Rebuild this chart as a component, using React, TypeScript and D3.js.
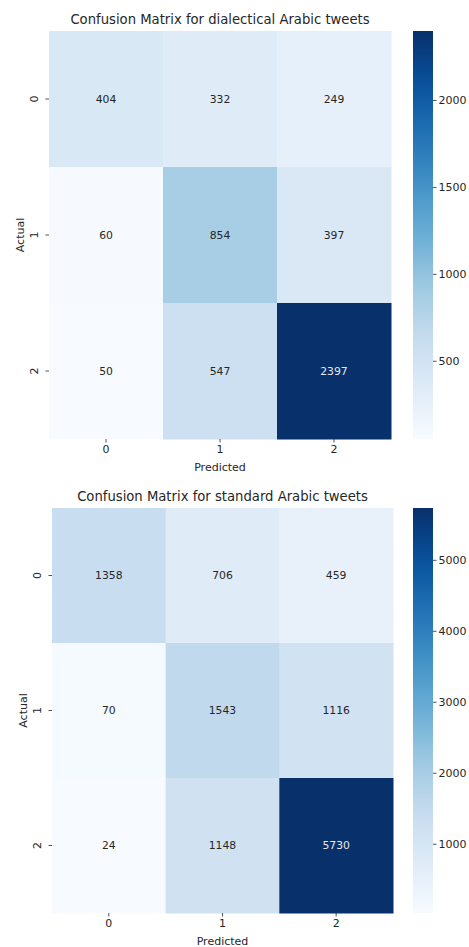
import React, { useEffect, useRef } from 'react';
import * as d3 from 'd3';

const labels = ['0', '1', '2'];

const dialectTitle = 'Confusion Matrix for dialectical Arabic tweets';
const dialectValues = [
  [404, 332, 249],
  [60, 854, 397],
  [50, 547, 2397],
];
const dialectTicks = [500, 1000, 1500, 2000];

const standardTitle = 'Confusion Matrix for standard Arabic tweets';
const standardValues = [
  [1358, 706, 459],
  [70, 1543, 1116],
  [24, 1148, 5730],
];
const standardTicks = [1000, 2000, 3000, 4000, 5000];

// matplotlib "Blues" anchor colours
const blues = ['#f7fbff', '#deebf7', '#c6dbef', '#9ecae1', '#6baed6', '#4292c6', '#2171b5', '#08519c', '#08306b'];

const font = '"DejaVu Sans", sans-serif';
const labelSize = 11;

interface Box { x0: number; x1: number; y0: number; y1: number }

interface PanelProps {
  id: string,
  title: string,
  values: number[][],
  ticks: number[],
  box: Box,
  top: number,
}

function draw(svgEl: SVGSVGElement, { id, title, values, ticks, box, top }: PanelProps) {
  const svg = d3.select(svgEl);
  const flat = values.flat();
  const vmin = d3.min(flat)!;
  const vmax = d3.max(flat)!;

  const cmap = d3.scaleLinear<string>()
    .domain(d3.range(blues.length).map((i) => i / (blues.length - 1)))
    .range(blues)
    .interpolate(d3.interpolateRgb);
  const color = (v: number) => cmap((v - vmin) / (vmax - vmin));

  const x = d3.scaleBand().domain(labels).range([box.x0, box.x1]);
  const y = d3.scaleBand().domain(labels).range([box.y0, box.y1]);

  const g = svg.append('g').attr('font-family', font);

  g.append('text')
    .attr('x', (box.x0 + box.x1) / 2)
    .attr('y', top)
    .attr('text-anchor', 'middle')
    .attr('font-size', 13.2)
    .attr('fill', '#262626')
    .text(title);

  const cells = values.flatMap((row, r) => row.map((v, c) => ({ r, c, v })));

  g.selectAll('.cell')
    .data(cells)
    .enter()
    .append('rect')
    .attr('x', (d) => x(labels[d.c])!)
    .attr('y', (d) => y(labels[d.r])!)
    .attr('width', x.bandwidth() + 0.5)
    .attr('height', y.bandwidth() + 0.5)
    .attr('fill', (d) => color(d.v));

  g.selectAll('.annot')
    .data(cells)
    .enter()
    .append('text')
    .attr('x', (d) => x(labels[d.c])! + x.bandwidth() / 2)
    .attr('y', (d) => y(labels[d.r])! + y.bandwidth() / 2)
    .attr('dy', '0.35em')
    .attr('text-anchor', 'middle')
    .attr('font-size', 10.8)
    .attr('fill', (d) => ((d.v - vmin) / (vmax - vmin) > 0.6 ? '#e8e8e8' : '#262626'))
    .text((d) => d.v);

  const xAxis = g.append('g')
    .attr('transform', `translate(0, ${box.y1})`)
    .call(d3.axisBottom(x).tickSize(3.5).tickPadding(3));
  xAxis.select('.domain').remove();

  const yAxis = g.append('g')
    .attr('transform', `translate(${box.x0}, 0)`)
    .call(d3.axisLeft(y).tickSize(3.5).tickPadding(3));
  yAxis.select('.domain').remove();
  yAxis.selectAll('.tick text')
    .attr('transform', 'rotate(-90)')
    .attr('x', 0)
    .attr('y', -11)
    .attr('dy', 0)
    .attr('text-anchor', 'middle');

  [xAxis, yAxis].forEach((a) => {
    a.selectAll('.tick line').attr('stroke', '#262626').attr('stroke-width', 0.8);
    a.selectAll('.tick text').attr('font-family', font).attr('font-size', labelSize).attr('fill', '#262626');
  });

  g.append('text')
    .attr('x', (box.x0 + box.x1) / 2)
    .attr('y', box.y1 + 32)
    .attr('text-anchor', 'middle')
    .attr('font-size', labelSize)
    .attr('fill', '#262626')
    .text('Predicted');

  g.append('text')
    .attr('transform', `translate(${box.x0 - 25}, ${(box.y0 + box.y1) / 2}) rotate(-90)`)
    .attr('text-anchor', 'middle')
    .attr('font-size', labelSize)
    .attr('fill', '#262626')
    .text('Actual');

  // colorbar
  const cbX = 413;
  const cbW = 20;
  const cy = d3.scaleLinear().domain([vmin, vmax]).range([box.y1, box.y0]);

  const grad = svg.append('defs')
    .append('linearGradient')
    .attr('id', `grad-${id}`)
    .attr('x1', 0).attr('y1', 1).attr('x2', 0).attr('y2', 0);
  grad.selectAll('stop')
    .data(d3.range(0, 1.0001, 0.05))
    .enter()
    .append('stop')
    .attr('offset', (d) => d)
    .attr('stop-color', (d) => cmap(d));

  g.append('rect')
    .attr('x', cbX)
    .attr('y', box.y0)
    .attr('width', cbW)
    .attr('height', box.y1 - box.y0)
    .attr('fill', `url(#grad-${id})`);

  const cAxis = g.append('g')
    .attr('transform', `translate(${cbX + cbW}, 0)`)
    .call(d3.axisRight(cy).tickValues(ticks).tickSize(3.5).tickPadding(2).tickFormat(d3.format('d')));
  cAxis.select('.domain').remove();
  cAxis.selectAll('.tick line').attr('stroke', '#262626').attr('stroke-width', 0.8);
  cAxis.selectAll('.tick text').attr('font-family', font).attr('font-size', labelSize).attr('fill', '#262626');
}

const panels: PanelProps[] = [
  { id: 'dialect', title: dialectTitle, values: dialectValues, ticks: dialectTicks, box: { x0: 49, x1: 391, y0: 31, y1: 439 }, top: 24 },
  { id: 'standard', title: standardTitle, values: standardValues, ticks: standardTicks, box: { x0: 52, x1: 393, y0: 508, y1: 913 }, top: 501 },
];

export default function App() {
  const ref = useRef<SVGSVGElement>(null);

  useEffect(() => {
    if (!ref.current) return;
    d3.select(ref.current).selectAll('*').remove();
    panels.forEach((p) => draw(ref.current!, p));
  }, []);

  return (
    <svg
      ref={ref}
      width={469}
      height={947}
      style={{ position: 'absolute', left: 0, top: 0, background: '#fff' }}
    />
  );
}
